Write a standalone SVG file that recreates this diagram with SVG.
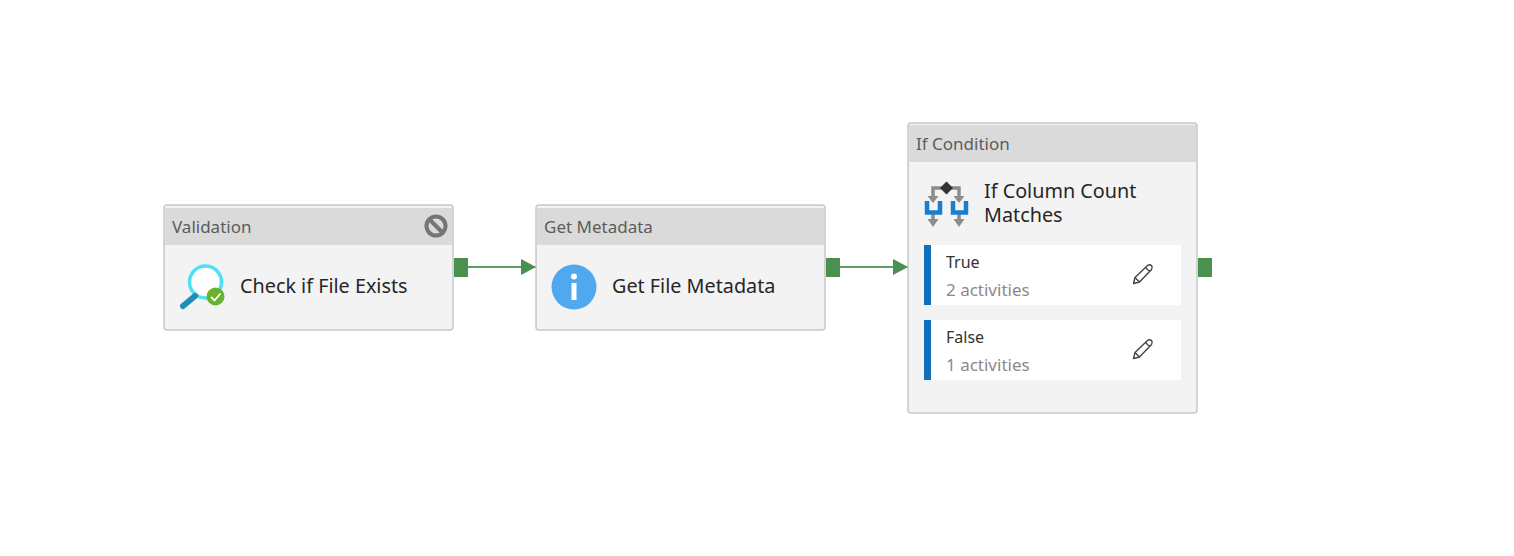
<svg xmlns="http://www.w3.org/2000/svg" width="1514" height="556" viewBox="0 0 1514 556">
<style>
text{font-family:"Noto Sans","Open Sans","Liberation Sans",sans-serif}
.card{fill:#f3f3f3;stroke:#c8c8c8;stroke-width:1.5}
.head{fill:#dadada}
.type{font-size:17px;fill:#5c5c5c}
.name{font-size:19.800px;fill:#262626}
.branch{font-size:16px;fill:#333}
.count{font-size:17px;fill:#8a8a8a}
.port{fill:#4a9150}
.conn{stroke:#5f9d64;stroke-width:2;fill:none}
.bar{fill:#1170bd}
.pen{fill:none;stroke:#444;stroke-width:1.4;stroke-linejoin:round}
</style>
<defs>
<marker id="arrow" markerUnits="userSpaceOnUse" markerWidth="15" markerHeight="16" refX="15" refY="8" orient="auto"><path d="M0 0L15 8L0 16Z" fill="#4a9150"/></marker>
<path id="pencil" class="pen" d="M-9.500 9.500L-8 3.500L4.500-8.500Q6.500-10 8.500-8.500Q10-6.500 8.500-4.500L-3.500 8ZM-8 3.500L-3.500 8M2.500-6.500L6.500-2.500"/>
</defs>
<g id="connectors">
<path class="conn" d="M468 267H536" marker-end="url(#arrow)"/>
<path class="conn" d="M840 267H908" marker-end="url(#arrow)"/>
</g>
<g id="node-validation">
<rect class="card" x="164" y="205" width="289" height="125" rx="3"/>
<path class="head" d="M165 208H452V245H165Z"/>
<text class="type" x="172" y="233">Validation</text>
<circle cx="436" cy="226" r="9.500" fill="none" stroke="#757575" stroke-width="4"/>
<path d="M429 219L443 233" stroke="#757575" stroke-width="4"/>
<circle cx="205.500" cy="282" r="16" fill="#fff" stroke="#50e0f5" stroke-width="3.500"/>
<path d="M183 306L195 296" stroke="#1e8fb5" stroke-width="6" stroke-linecap="round"/>
<circle cx="215.500" cy="296.500" r="9" fill="#67b32e"/>
<path d="M211 297L214.500 300.500L220.500 293.500" fill="none" stroke="#fff" stroke-width="1.800"/>
<text class="name" x="240" y="293">Check if File Exists</text>
</g>
<rect class="port" x="454" y="258" width="14" height="19"/>
<g id="node-metadata">
<rect class="card" x="536" y="205" width="289" height="125" rx="3"/>
<path class="head" d="M537 208H824V245H537Z"/>
<text class="type" x="544" y="233">Get Metadata</text>
<circle cx="574" cy="287" r="22.500" fill="#50a8ee"/>
<circle cx="574" cy="276.500" r="3" fill="#fff"/>
<rect x="571.500" y="283" width="5" height="17" fill="#fff"/>
<text class="name" x="612" y="293">Get File Metadata</text>
</g>
<rect class="port" x="826" y="258" width="14" height="19"/>
<g id="node-if">
<rect class="card" x="908" y="123" width="289" height="290" rx="3"/>
<path class="head" d="M909 125H1196V162H909Z"/>
<text class="type" x="916" y="150">If Condition</text>
<path d="M933 199V188H959V199" fill="none" stroke="#8c8c8c" stroke-width="3.500"/>
<path d="M927.500 196H938.500L933 203ZM953.500 196H964.500L959 203ZM927.500 219H938.500L933 227ZM953.500 219H964.500L959 227Z" fill="#8c8c8c"/>
<path d="M933 214V220M959 214V220" stroke="#8c8c8c" stroke-width="3.500"/>
<path d="M940 188L946.500 181.500L953 188L946.500 194.500Z" fill="#333"/>
<path d="M927 201V212.500H940V201M953 201V212.500H966V201" fill="none" stroke="#1c7cd0" stroke-width="4.500"/>
<text class="name" x="984" y="198">If Column Count</text>
<text class="name" x="984" y="222">Matches</text>
<g id="branch-true">
<rect x="924" y="245" width="257" height="60" fill="#fff"/>
<rect class="bar" x="924" y="245" width="7" height="60"/>
<text class="branch" x="946" y="268">True</text>
<text class="count" x="946" y="296">2 activities</text>
<use href="#pencil" x="1143" y="274"/>
</g>
<g id="branch-false">
<rect x="924" y="320" width="257" height="60" fill="#fff"/>
<rect class="bar" x="924" y="320" width="7" height="60"/>
<text class="branch" x="946" y="343">False</text>
<text class="count" x="946" y="371">1 activities</text>
<use href="#pencil" x="1143" y="349"/>
</g>
</g>
<rect class="port" x="1198" y="258" width="14" height="19"/>
</svg>
